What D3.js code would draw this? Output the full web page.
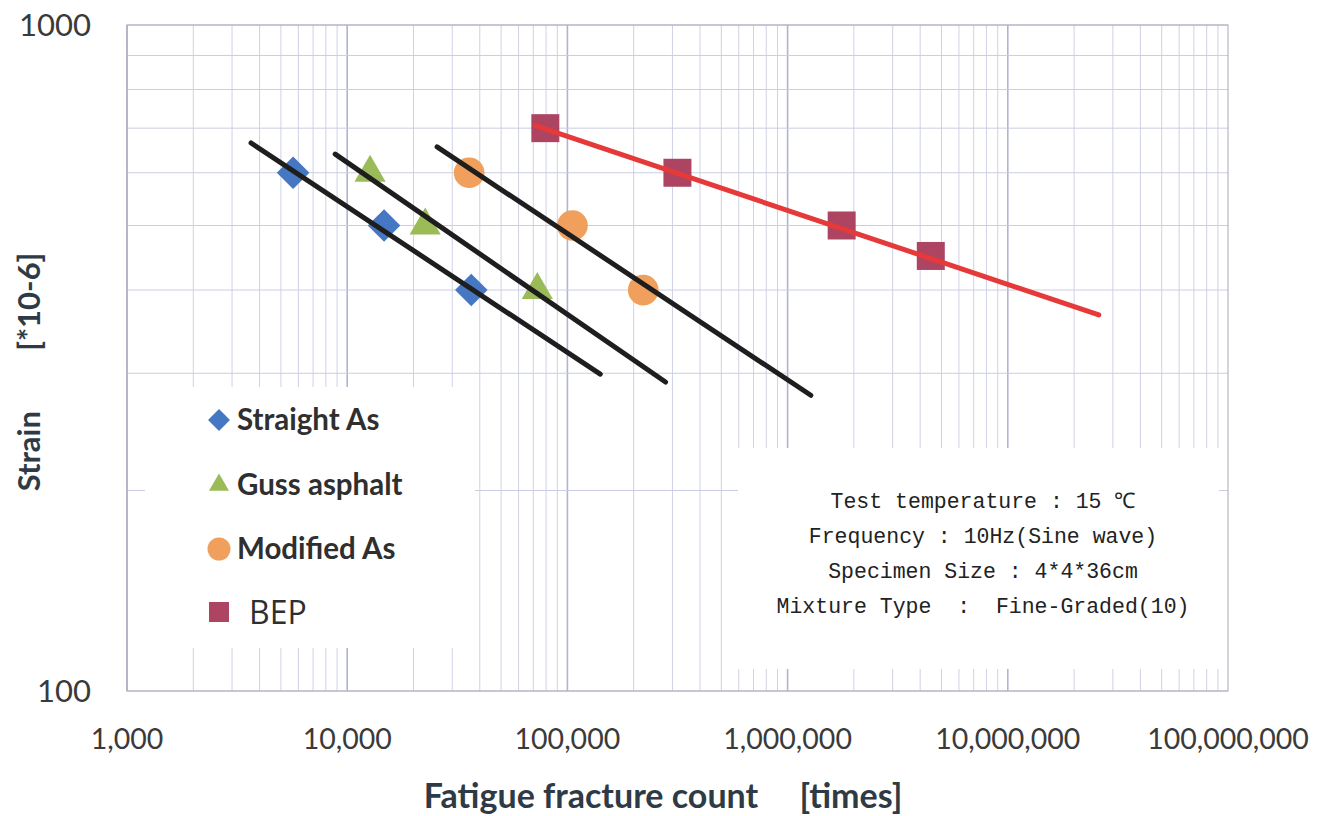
<!DOCTYPE html>
<html>
<head>
<meta charset="utf-8">
<script src="https://cdn.jsdelivr.net/npm/d3@7"></script>
<style>
  body { margin: 0; background: #fff; }
  svg text { white-space: pre; }
</style>
</head>
<body>
<div id="chart"></div>
<script>
// ######################## Data #############################################
const seriesNames = ["Straight As", "Guss asphalt", "Modified As", "BEP"];

// fatigue fracture count (times) and strain (*10-6) per point
const straightCycles = [5680, 14700, 36600];
const straightStrain = [600, 500, 400];
const gussCycles = [12700, 22600, 73000];
const gussStrain = [600, 500, 400];
const modifiedCycles = [35800, 105400, 221000];
const modifiedStrain = [600, 500, 400];
const bepCycles = [79400, 316000, 1760000, 4470000];
const bepStrain = [700, 600, 500, 450];

// fitted lines, [cycles, strain] at each end
const straightFit = [[3660, 665], [141000, 299]];
const gussFit = [[8820, 640], [279000, 291]];
const modifiedFit = [[25600, 656], [1275000, 278]];
const bepFit = [[71600, 706], [25900000, 367]];

const xTicks = [1e3, 1e4, 1e5, 1e6, 1e7, 1e8];
const yTicks = [100, 1000];

const noteLines = [
    "Test temperature : 15 ℃",
    "Frequency : 10Hz(Sine wave)",
    "Specimen Size : 4*4*36cm",
    "Mixture Type  :  Fine-Graded(10)"
];

// ####################### Chart #############################################
const width = 1320, height = 816;
const margin = { top: 25, right: 92, bottom: 125, left: 127 };
const innerW = width - margin.left - margin.right;
const innerH = height - margin.top - margin.bottom;

const svg = d3.select("#chart").append("svg")
    .attr("width", width)
    .attr("height", height);

const g = svg.append("g")
    .attr("transform", `translate(${margin.left},${margin.top})`);

const x = d3.scaleLog().domain([1e3, 1e8]).range([0, innerW]);
const y = d3.scaleLog().domain([100, 1000]).range([innerH, 0]);

// grid lines: 1..9 per decade
const xGrid = [];
for (let e = 3; e < 8; e++) for (let m = 1; m <= 9; m++) xGrid.push(m * Math.pow(10, e));
const yGrid = d3.range(100, 1001, 100);

g.append("g").selectAll("line")
    .data(xGrid)
    .join("line")
    .attr("x1", d => x(d)).attr("x2", d => x(d))
    .attr("y1", 0).attr("y2", innerH)
    .attr("stroke", d => xTicks.includes(d) ? "#b0b4d0" : "#cfd1e6")
    .attr("stroke-width", d => xTicks.includes(d) ? 1.6 : 1);

g.append("g").selectAll("line")
    .data(yGrid)
    .join("line")
    .attr("x1", 0).attr("x2", innerW)
    .attr("y1", d => y(d)).attr("y2", d => y(d))
    .attr("stroke", "#cbcde2")
    .attr("stroke-width", 1);

g.append("rect")
    .attr("width", innerW).attr("height", innerH)
    .attr("fill", "none")
    .attr("stroke", "#a8a8b4")
    .attr("stroke-width", 1);

// white boxes behind legend and note
g.append("rect")
    .attr("x", 145 - margin.left).attr("y", 387 - margin.top)
    .attr("width", 330).attr("height", 261)
    .attr("fill", "#fff");
g.append("rect")
    .attr("x", 738 - margin.left).attr("y", 448 - margin.top)
    .attr("width", 481).attr("height", 221)
    .attr("fill", "#fff");

// tick labels
svg.append("g").selectAll("text")
    .data(xTicks)
    .join("text")
    .attr("x", d => margin.left + x(d))
    .attr("y", 749)
    .attr("text-anchor", "middle")
    .attr("font-family", "Lato, sans-serif")
    .attr("font-size", 28.5)
    .attr("fill", "#3a3a3a")
    .text(d => d3.format(",")(d));

svg.append("g").selectAll("text")
    .data(yTicks)
    .join("text")
    .attr("x", 91)
    .attr("y", d => margin.top + y(d) + 11)
    .attr("text-anchor", "end")
    .attr("font-family", "Lato, sans-serif")
    .attr("font-size", 31)
    .attr("fill", "#3a3a3a")
    .text(d => d);

// axis titles
svg.append("text")
    .attr("x", 663).attr("y", 808)
    .attr("text-anchor", "middle")
    .attr("font-family", "Lato, sans-serif")
    .attr("font-weight", "bold")
    .attr("font-size", 34)
    .attr("fill", "#2e3b46")
    .text("Fatigue fracture count     [times]");

svg.append("text")
    .attr("transform", "translate(40,372) rotate(-90)")
    .attr("text-anchor", "middle")
    .attr("font-family", "Lato, sans-serif")
    .attr("font-weight", "bold")
    .attr("font-size", 31)
    .attr("fill", "#2e3b46")
    .text("Strain        [*10-6]");

// ###################### Series ##############################################
const series = [
    { name: seriesNames[0], cycles: straightCycles, strain: straightStrain, fit: straightFit,
      color: "#4677c2", shape: d3.symbolSquare, size: 530, rotate: 45, lsize: 240, line: "#1e1e1e" },
    { name: seriesNames[1], cycles: gussCycles, strain: gussStrain, fit: gussFit,
      color: "#9bbb59", shape: d3.symbolTriangle, size: 420, rotate: 0, lsize: 175, line: "#1e1e1e" },
    { name: seriesNames[2], cycles: modifiedCycles, strain: modifiedStrain, fit: modifiedFit,
      color: "#f0a05c", shape: d3.symbolCircle, size: 740, rotate: 0, lsize: 415, line: "#1e1e1e" },
    { name: seriesNames[3], cycles: bepCycles, strain: bepStrain, fit: bepFit,
      color: "#ac4462", shape: d3.symbolSquare, size: 784, rotate: 0, lsize: 400, line: "#e63a3a" }
];

// markers first, fitted lines drawn over them
series.forEach(s => {
    g.append("g").selectAll("path")
        .data(s.cycles.map((c, i) => [c, s.strain[i]]))
        .join("path")
        .attr("d", d3.symbol().type(s.shape).size(s.size))
        .attr("transform", d => `translate(${x(d[0])},${y(d[1])}) rotate(${s.rotate})`)
        .attr("fill", s.color);
});

const line = d3.line().x(d => x(d[0])).y(d => y(d[1]));
series.forEach(s => {
    g.append("path")
        .datum(s.fit)
        .attr("d", line)
        .attr("fill", "none")
        .attr("stroke", s.line)
        .attr("stroke-width", 5)
        .attr("stroke-linecap", "round");
});

// ###################### Legend ##############################################
const legendY = [420, 485, 549, 612];
const legend = svg.append("g").selectAll("g")
    .data(series)
    .join("g")
    .attr("transform", (d, i) => `translate(219,${legendY[i]})`);

legend.append("path")
    .attr("d", d => d3.symbol().type(d.shape).size(d.lsize)())
    .attr("transform", d => `rotate(${d.rotate})`)
    .attr("fill", d => d.color);

legend.append("text")
    .attr("x", (d, i) => i === 3 ? 30 : 18)
    .attr("y", (d, i) => i === 3 ? 12 : 10)
    .attr("font-family", (d, i) => i === 3 ? "'Open Sans', sans-serif" : "Lato, sans-serif")
    .attr("font-weight", (d, i) => i === 3 ? "normal" : "bold")
    .attr("font-size", (d, i) => i === 3 ? 32 : 29.5)
    .attr("fill", "#2f2f2f")
    .text(d => d.name);

// ###################### Test conditions note ################################
svg.append("g").selectAll("text")
    .data(noteLines)
    .join("text")
    .attr("x", 983)
    .attr("y", (d, i) => 508 + i * 35)
    .attr("text-anchor", "middle")
    .attr("font-family", "'Liberation Mono', monospace")
    .attr("font-size", 21.5)
    .attr("fill", "#222")
    .text(d => d);
</script>
</body>
</html>
